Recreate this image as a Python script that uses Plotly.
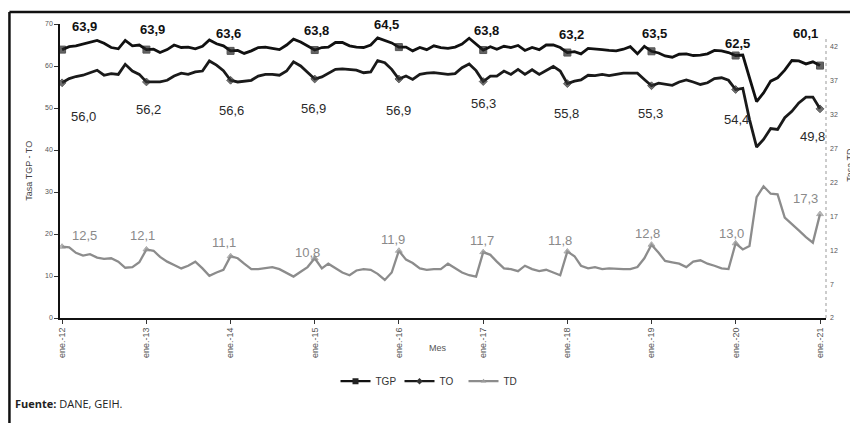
import plotly.graph_objects as go
import pandas as pd

# ---------------- data ----------------
months = pd.date_range("2012-01-01", "2021-01-01", freq="MS")

tgp = [63.9, 64.6, 64.8, 65.2, 65.7, 66.1, 65.4, 64.4, 64.1, 66.1, 64.8, 65.0,
       63.9, 64.0, 63.2, 63.9, 65.0, 64.4, 64.5, 64.1, 64.7, 66.2, 65.3, 64.8,
       63.6, 63.7, 63.0, 63.6, 64.4, 64.5, 64.2, 63.9, 65.0, 66.4, 65.7, 64.7,
       63.8, 64.4, 64.5, 65.6, 65.6, 64.8, 64.5, 64.4, 65.0, 66.7, 66.1, 65.5,
       64.5, 64.5, 63.6, 64.4, 63.9, 64.8, 64.4, 64.2, 64.5, 65.2, 66.6, 65.2,
       63.8, 64.6, 64.0, 64.7, 64.4, 64.9, 63.7, 64.4, 63.9, 65.0, 65.0, 64.4,
       63.2, 63.4, 62.9, 64.2, 64.1, 63.9, 63.7, 63.6, 64.0, 64.6, 62.9, 64.7,
       63.5, 63.1, 62.4, 62.1, 62.8, 62.9, 62.5, 62.6, 62.9, 63.7, 63.6, 63.2,
       62.5, 62.6, 57.2, 51.5, 53.6, 56.4, 57.2, 59.0, 61.3, 61.2, 60.5, 61.0,
       60.1]

to = [56.0, 57.0, 57.5, 57.8, 58.4, 59.0, 57.8, 58.2, 58.0, 60.4, 58.8, 58.0,
      56.2, 56.2, 56.2, 56.6, 57.6, 58.3, 58.0, 58.6, 58.8, 61.2, 60.2, 58.9,
      56.6, 56.2, 56.4, 56.6, 57.6, 58.0, 58.0, 57.8, 58.8, 61.0, 60.0, 58.4,
      56.9, 57.4, 58.2, 59.2, 59.3, 59.1, 59.0, 58.4, 58.6, 61.3, 60.8, 59.2,
      56.9, 57.6, 56.8, 58.0, 58.3, 58.4, 58.2, 58.0, 58.2, 59.6, 60.5, 58.9,
      56.3, 57.6, 57.6, 58.8, 58.0, 59.2, 58.0, 59.1, 58.0, 58.9, 59.9, 58.8,
      55.8, 56.4, 56.7, 57.8, 57.7, 58.0, 57.7, 58.0, 58.3, 58.3, 58.3, 56.8,
      55.3, 55.9, 55.6, 55.4, 56.2, 56.7, 56.2, 55.6, 56.0, 57.0, 57.2, 56.6,
      54.4, 54.7, 47.3, 40.7, 42.5, 45.1, 44.9, 47.7, 49.2, 51.2, 52.6, 52.6,
      49.8]

td = [12.5, 12.4, 11.6, 11.2, 11.4, 10.9, 10.7, 10.8, 10.3, 9.4, 9.5, 10.2,
      12.1, 11.9, 11.0, 10.3, 9.8, 9.3, 9.7, 10.3, 9.3, 8.2, 8.7, 9.1,
      11.1, 10.8, 10.0, 9.2, 9.2, 9.3, 9.5, 9.2, 8.6, 8.1, 8.8, 9.5,
      10.8, 9.3, 10.0, 9.3, 8.7, 8.3, 9.0, 9.2, 9.1, 8.5, 7.6, 8.7,
      11.9, 10.6, 10.1, 9.3, 9.1, 9.2, 9.2, 10.0, 9.3, 8.7, 8.3, 8.1,
      11.7, 11.3, 10.3, 9.3, 9.2, 8.9, 9.7, 9.2, 8.9, 9.1, 8.7, 8.3,
      11.8, 11.1, 9.7, 9.3, 9.5, 9.2, 9.3, 9.2, 9.2, 9.2, 9.5, 10.8,
      12.8, 11.6, 10.4, 10.2, 10.0, 9.5, 10.3, 10.5, 10.0, 9.7, 9.3, 9.2,
      13.0, 12.1, 12.6, 19.8, 21.4, 20.3, 20.2, 16.8, 15.9, 14.9, 13.9, 13.1,
      17.3]

tick_vals = pd.date_range("2012-01-01", "2021-01-01", freq="12MS")
tick_text = ["ene.-12", "ene.-13", "ene.-14", "ene.-15", "ene.-16",
             "ene.-17", "ene.-18", "ene.-19", "ene.-20", "ene.-21"]
left_ticks = [0, 10, 20, 30, 40, 50, 60, 70]
right_ticks = [2, 7, 12, 17, 22, 27, 32, 37, 42]

# indices of labelled points (each January)
label_idx = list(range(0, len(months), 12))

# ---------------- styles / label offsets (pixels) ----------------
tgp_shift = [(22, 23), (6, 20), (-2, 17), (2, 20), (-12, 23),
             (3, 20), (4, 18), (3, 18), (2, 12), (-15, 32)]
to_shift = [(21, -34), (2, -28), (1, -30), (-1, -29), (0, -31),
            (0, -22), (-1, -30), (-1, -28), (1, -30), (-8, -28)]
td_shift = [(22, 11), (-4, 14), (-7, 14), (-7, 6), (-6, 11),
            (-1, 12), (-7, 11), (-4, 11), (-4, 10), (-15, 16)]

FONT = "Liberation Sans, Arial, sans-serif"

styles = {
    "TGP": dict(line=dict(color="#111111", width=2.8), symbol="square", msize=7, mcolor="#222222"),
    "TO": dict(line=dict(color="#1a1a1a", width=2.8), symbol="diamond", msize=6, mcolor="#333333"),
    "TD": dict(line=dict(color="#8c8c8c", width=2.3), symbol="triangle-up", msize=6, mcolor="#9a9a9a"),
}


def fmt(v):
    return f"{v:.1f}".replace(".", ",")


def sizes(n, s):
    return [s if i % 12 == 0 else 0 for i in range(n)]


fig = go.Figure()
for name, vals, axis in [("TGP", tgp, "y"), ("TO", to, "y"), ("TD", td, "y2")]:
    st = styles[name]
    fig.add_trace(go.Scatter(
        x=months, y=vals, name=name, mode="lines+markers",
        line=st["line"],
        marker=dict(symbol=st["symbol"], size=sizes(len(vals), st["msize"]),
                    color=st["mcolor"]),
        yaxis=axis, showlegend=False, legendgroup=name))
# legend entries (line + marker sample)
for name in ["TGP", "TO", "TD"]:
    st = styles[name]
    fig.add_trace(go.Scatter(
        x=[None], y=[None], name=name, mode="lines+markers",
        line=dict(color=st["line"]["color"], width=2.2),
        marker=dict(symbol=st["symbol"], size=st["msize"] - 1, color=st["mcolor"]),
        legendgroup=name, showlegend=True))

annotations = []
for k, i in enumerate(label_idx):
    annotations.append(dict(x=months[i], y=tgp[i], xref="x", yref="y",
                            text="<b>" + fmt(tgp[i]) + "</b>", showarrow=False,
                            xshift=tgp_shift[k][0], yshift=tgp_shift[k][1],
                            font=dict(family=FONT, size=13, color="#111111")))
    annotations.append(dict(x=months[i], y=to[i], xref="x", yref="y",
                            text=fmt(to[i]), showarrow=False,
                            xshift=to_shift[k][0], yshift=to_shift[k][1],
                            font=dict(family=FONT, size=13, color="#2a2a2a")))
    annotations.append(dict(x=months[i], y=td[i], xref="x", yref="y2",
                            text=fmt(td[i]), showarrow=False,
                            xshift=td_shift[k][0], yshift=td_shift[k][1],
                            font=dict(family=FONT, size=13, color="#8a8a8a")))

annotations += [
    dict(x=-0.050, y=0.50, xref="paper", yref="paper", text="Tasa TGP - TO",
         textangle=-90, showarrow=False,
         font=dict(family=FONT, size=9, color="#444444")),
    dict(x=1.031, y=0.52, xref="paper", yref="paper", text="Tasa TD",
         textangle=-90, showarrow=False, xanchor="center",
         font=dict(family=FONT, size=9, color="#444444")),
    dict(x=0.494, y=-0.125, xref="paper", yref="paper", text="Mes",
         showarrow=False, font=dict(family=FONT, size=9, color="#555555")),
    dict(x=-0.061, y=-0.322, xref="paper", yref="paper", xanchor="left",
         text="<b>Fuente:</b> DANE, GEIH.", showarrow=False,
         font=dict(family="Open Sans, sans-serif", size=11, color="#222222")),
]

shapes = [
    dict(type="line", xref="paper", yref="paper", x0=-0.066, x1=1.05,
         y0=1.041, y1=1.041, line=dict(color="#111111", width=2.5)),
    dict(type="line", xref="paper", yref="paper", x0=-0.066, x1=-0.066,
         y0=1.041, y1=-0.37, line=dict(color="#111111", width=2.5)),
    dict(type="line", xref="paper", yref="paper", x0=1.0, x1=1.0,
         y0=0, y1=0.95, line=dict(color="#999999", width=1, dash="dot")),
]

# the page adds an 8px body margin, so the figure is offset by 8px
fig.update_layout(
    width=858, height=423,
    margin=dict(l=52, r=40, t=14, b=113),
    paper_bgcolor="white", plot_bgcolor="white",
    font=dict(family=FONT, color="#444444"),
    showlegend=True,
    legend=dict(orientation="h", x=0.485, xanchor="center", y=-0.215,
                yanchor="middle", font=dict(family=FONT, size=10, color="#333333"),
                entrywidth=19, entrywidthmode="pixels",
                itemwidth=30, tracegroupgap=0, bgcolor="rgba(0,0,0,0)"),
    xaxis=dict(range=["2011-12-23", "2021-01-27"], tickmode="array",
               tickvals=tick_vals, ticktext=tick_text, tickangle=-90,
               tickfont=dict(family=FONT, size=9, color="#555555"),
               showline=True, linecolor="#111111", linewidth=2,
               ticks="outside", ticklen=4, tickcolor="#333333",
               showgrid=False, zeroline=False),
    yaxis=dict(range=[0, 70], tickmode="array", tickvals=left_ticks,
               tickfont=dict(family=FONT, size=7, color="#555555"),
               showline=True, linecolor="#111111", linewidth=1.5,
               ticks="outside", ticklen=4, tickcolor="#333333",
               showgrid=False, zeroline=False),
    yaxis2=dict(range=[2, 45.3], overlaying="y", side="right",
                tickmode="array", tickvals=right_ticks,
                tickfont=dict(family=FONT, size=7, color="#555555"),
                showline=False, ticks="", ticklabelstandoff=3,
                showgrid=False, zeroline=False),
    annotations=annotations,
    shapes=shapes,
)

fig.write_html("out.html")
